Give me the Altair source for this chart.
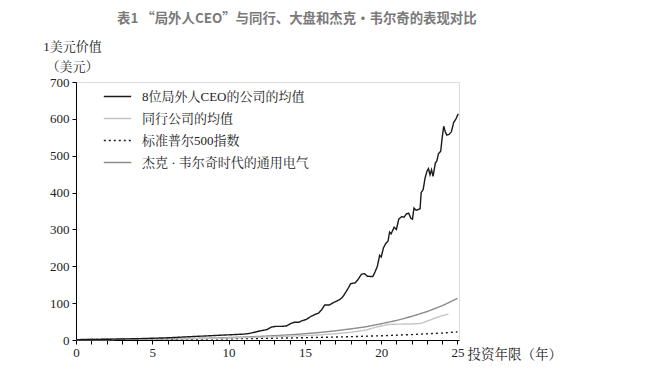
import altair as alt
import pandas as pd

# ---- data ----
series_names = ["8位局外人CEO的公司的均值", "同行公司的均值", "标准普尔500指数", "杰克 · 韦尔奇时代的通用电气"]

ceo_years = [0, 2, 4, 6, 8, 10, 10.5, 11, 11.4, 11.8, 12.1, 12.5, 12.8, 13.1, 13.5, 13.8, 14.1, 14.3, 14.6, 14.8,
             15.1, 15.4, 15.7, 15.9, 16.1, 16.3, 16.6, 16.8, 17.0, 17.3, 17.5, 17.7, 17.9, 18.0, 18.3, 18.5, 18.7,
             18.9, 19.1, 19.45, 19.6, 19.75, 19.9, 20.0, 20.15, 20.3, 20.45, 20.55, 20.65, 20.85, 21.0, 21.15,
             21.35, 21.5, 21.65, 21.8, 21.95, 22.05, 22.15, 22.3, 22.55, 22.62, 22.75, 22.88, 23.0, 23.1, 23.2,
             23.3, 23.4, 23.55, 23.65, 23.75, 23.9, 24.0, 24.1, 24.2, 24.3, 24.45, 24.6, 24.75, 24.9, 25.05]
ceo_values = [1, 2, 3.5, 6, 10, 14, 15, 16, 18, 22, 25, 28, 35, 37, 37, 38, 45, 48, 48, 52,
              56, 64, 70, 73, 82, 95, 95, 100, 104, 110, 118, 131, 145, 153, 155, 165, 178,
              180, 173, 172, 185, 200, 230, 225, 250, 262, 268, 293, 288, 306, 300, 328,
              335, 333, 342, 344, 330, 328, 358, 352, 356, 400, 408, 440, 458, 465, 448,
              462, 444, 480, 486, 505, 512, 550, 580, 565, 556, 558, 565, 590, 600, 614]

peer_years = [0, 2, 4, 6, 8, 10, 12, 14, 15, 16, 17, 18, 19, 19.5, 20, 20.5, 21, 22, 22.6, 23, 23.5, 24, 24.4]
peer_values = [1, 1.4, 2, 2.8, 3.9, 5.3, 7.5, 10.5, 12, 14, 17, 21, 27, 33, 38, 42, 43, 43.5, 45, 51, 59, 66, 70]

sp_years = [0, 2, 4, 6, 8, 10, 12, 14, 16, 18, 20, 22, 24, 25]
sp_values = [1, 1.3, 1.6, 2.1, 2.7, 3.4, 4.3, 5.5, 7.1, 9.0, 11.5, 14.7, 18.8, 22]

ge_years = list(range(0, 26))
ge_values = [1, 1.2, 1.5, 1.8, 2.1, 2.6, 3.1, 3.8, 4.5, 5.5, 6.6, 8, 9.7, 11.7, 14, 17, 20.5, 25, 30, 36,
             44, 53, 64, 77, 93, 113]

x_ticks = list(range(0, 26))
y_ticks = [0, 100, 200, 300, 400, 500, 600, 700]

colors = ["#1a1a1a", "#c4c4c4", "#1a1a1a", "#8c8c8c"]
dashes = [[1, 0], [1, 0], [2, 3], [1, 0]]

rows = []
for name, xs, ys, order in [(series_names[3], ge_years, ge_values, 1),
                            (series_names[2], sp_years, sp_values, 2),
                            (series_names[1], peer_years, peer_values, 3),
                            (series_names[0], ceo_years, ceo_values, 4)]:
    for xv, yv in zip(xs, ys):
        rows.append({"series": name, "year": xv, "value": yv, "ord": order})
df = pd.DataFrame(rows)

FONT = "Liberation Serif, Noto Serif CJK SC, Noto Sans CJK SC"

legend = alt.Legend(
    title=None, orient="none", legendX=27, legendY=0,
    symbolType="stroke", symbolSize=750, symbolStrokeWidth=1.5,
    labelFont=FONT, labelFontSize=13, labelColor="#222", rowPadding=0,
    padding=0, labelOffset=10, labelLimit=0,
)

chart = alt.Chart(df).mark_line(strokeWidth=1.4).encode(
    x=alt.X("year:Q",
            scale=alt.Scale(domain=[0, 25.1], nice=False, zero=False),
            axis=alt.Axis(values=x_ticks, labelExpr="datum.value % 5 == 0 ? datum.label : ''",
                          title="投资年限（年）", titleAngle=0, titleAlign="left", titleBaseline="middle",
                          titleX=391, titleY=14, titleFont=FONT, titleFontSize=13.5,
                          titleFontWeight="normal", titleColor="#222",
                          tickSize=4, tickColor="#000", domainColor="#000", labelFont=FONT,
                          labelFontSize=13, labelColor="#222", labelPadding=2, grid=False,
                          labelFlush=False)),
    y=alt.Y("value:Q",
            scale=alt.Scale(domain=[0, 700], nice=False),
            axis=alt.Axis(values=y_ticks, title=["1美元价值", "（美元）"], titleAngle=0,
                          titleAlign="center", titleBaseline="top", titleX=-4, titleY=-42,
                          titleFont=FONT, titleFontSize=13, titleFontWeight="normal",
                          titleColor="#222", titleLineHeight=20,
                          tickSize=4, tickColor="#000", domainColor="#000", labelFont=FONT,
                          labelFontSize=13, labelColor="#222", labelPadding=3, grid=False)),
    color=alt.Color("series:N", scale=alt.Scale(domain=series_names, range=colors), legend=legend),
    strokeDash=alt.StrokeDash("series:N", scale=alt.Scale(domain=series_names, range=dashes), legend=legend),
    order=alt.Order("ord:Q"),
    detail="series:N",
).properties(
    width=383, height=258,
    padding={"left": 68, "top": 74, "right": 180, "bottom": 30},
    autosize=alt.AutoSizeParams(type="none"),
    title=alt.TitleParams("表1 “局外人CEO”与同行、大盘和杰克•韦尔奇的表现对比",
                          anchor="start", frame="group", dx=41, offset=15,
                          font="Noto Sans CJK SC", fontSize=13.4, fontWeight="bold", color="#7a7a7a"),
).configure_view(stroke=None).configure(background="white")

chart.save("out.html", embed_options={"renderer": "svg", "actions": False})
